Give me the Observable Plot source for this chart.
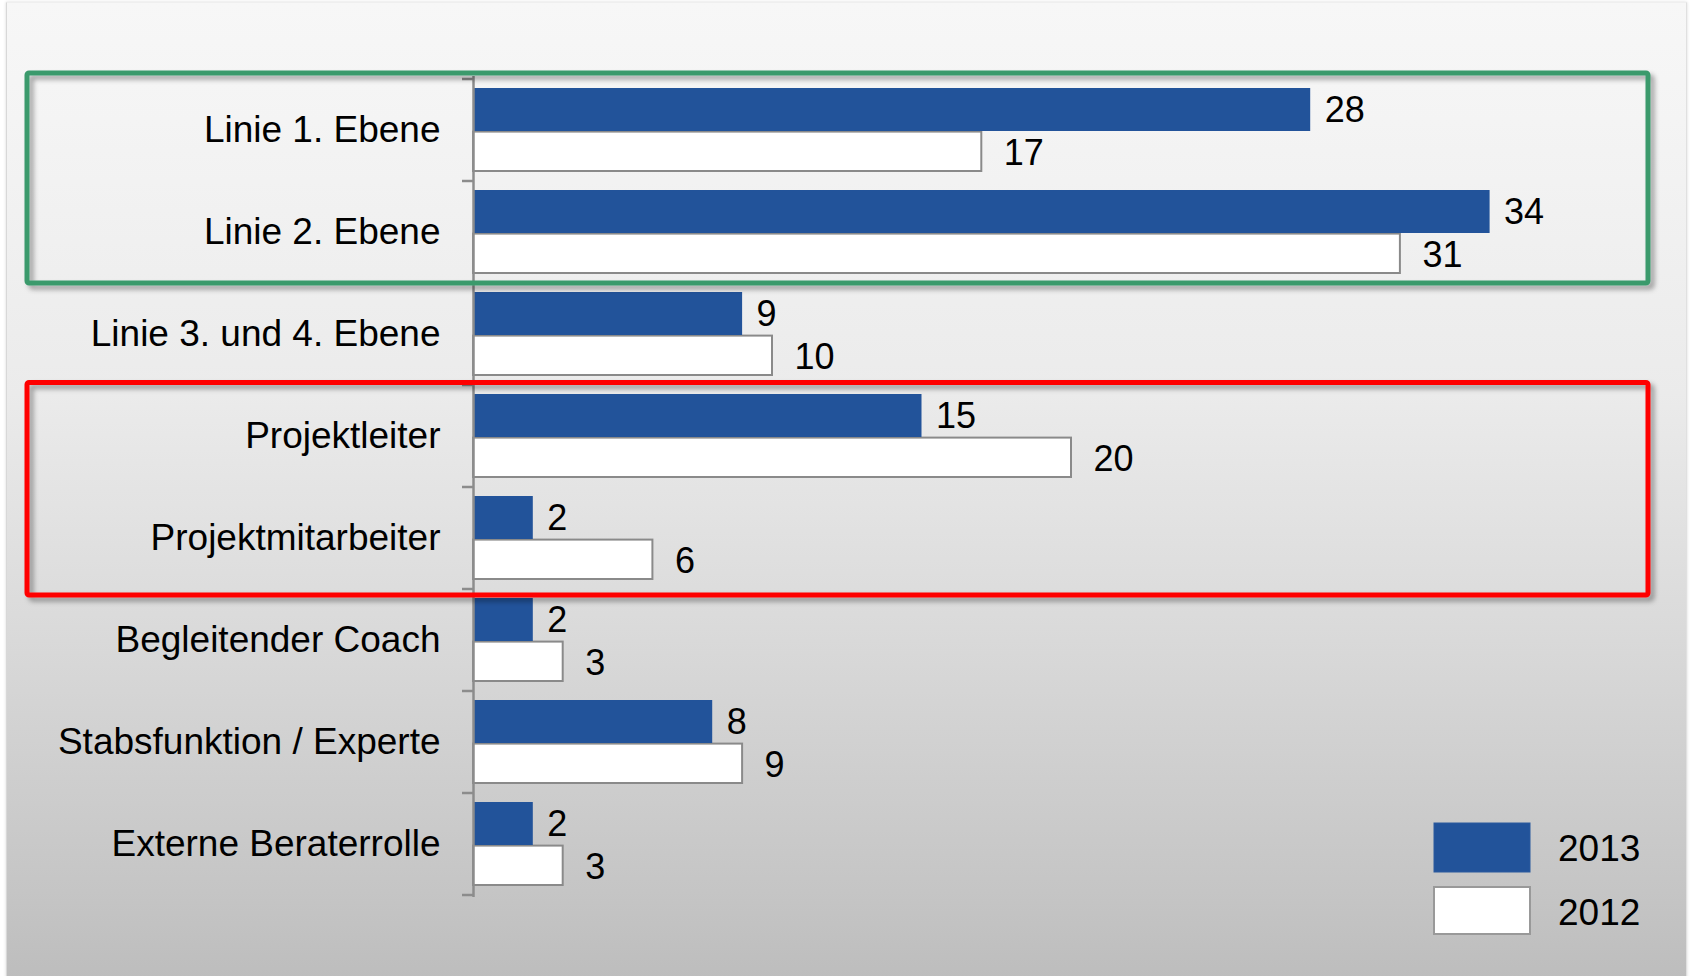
<!DOCTYPE html>
<html>
<head>
<meta charset="utf-8">
<script src="https://cdn.jsdelivr.net/npm/d3@7"></script>
<script src="https://cdn.jsdelivr.net/npm/@observablehq/plot@0.6"></script>
<style>
  html, body { margin: 0; padding: 0; background: #ffffff; overflow: hidden; }
  #wrap { position: relative; width: 1690px; height: 976px; }
  #card {
    position: absolute; left: 6px; top: 2px; width: 1679px; height: 976px;
    background: linear-gradient(to bottom, #f7f7f7 0%, #f4f4f4 12%, #ebebeb 40%, #dadada 64%, #c5c5c5 91%, #bdbdbd 100%);
    border-left: 1px solid #d8d8d8; border-right: 1px solid #e0e0e0; border-top: 1px solid #efefef;
    box-shadow: 0 0 3px rgba(0,0,0,0.15);
  }
  #chart { position: absolute; left: 0; top: 0; }
</style>
</head>
<body>
<div id="wrap"><div id="card"></div><div id="chart"></div></div>
<script>
const categories = ["Linie 1. Ebene", "Linie 2. Ebene", "Linie 3. und 4. Ebene", "Projektleiter", "Projektmitarbeiter", "Begleitender Coach", "Stabsfunktion / Experte", "Externe Beraterrolle"];
const values2013 = [28, 34, 9, 15, 2, 2, 8, 2];
const values2012 = [17, 31, 10, 20, 6, 3, 9, 3];
const years = ["2013", "2012"];
const colors = {"2013": "#22539a", "2012": "#ffffff"};

const rows = categories.map((c, i) => ({cat: c, v2013: values2013[i], v2012: values2012[i]}));

const font = "'Liberation Sans', Arial, Helvetica, sans-serif";

const plot = Plot.plot({
  width: 1690,
  height: 976,
  marginLeft: 473,
  marginRight: 21,
  marginTop: 76,
  marginBottom: 79,
  style: {background: "transparent", fontFamily: font, fontSize: "36px", color: "#000", overflow: "visible"},
  x: {domain: [0, 40], axis: null},
  y: {domain: categories, padding: 0, label: null},
  marks: [
    Plot.barX(rows, {x: "v2012", y: "cat", fill: colors["2012"], stroke: "#8a8a8a", strokeWidth: 2, insetTop: 52.6, insetBottom: 10}),
    Plot.barX(rows, {x: "v2013", y: "cat", fill: colors["2013"], insetTop: 9, insetBottom: 50}),
    Plot.ruleX([0], {stroke: "#8c8c8c", strokeWidth: 2.5}),
    Plot.axisY({tickSize: 0, tickPadding: 33, label: null, fontSize: 37}),
    Plot.text(rows, {x: "v2013", y: "cat", text: d => String(d.v2013), textAnchor: "start", dx: 14, dy: -20.5, fontSize: 36, fill: "#000"}),
    Plot.text(rows, {x: "v2012", y: "cat", text: d => String(d.v2012), textAnchor: "start", dx: 22, dy: 23, fontSize: 36, fill: "#000"})
  ]
});

document.getElementById("chart").appendChild(plot);

const svg = d3.select(plot);
const ys = plot.scale("y");
const xs = plot.scale("x");
const x0 = xs.apply(0);

// band boundary ticks
const tickYs = categories.map(c => ys.apply(c));
tickYs.push(ys.apply(categories[categories.length - 1]) + ys.bandwidth);
svg.append("g").selectAll("line").data(tickYs).join("line")
  .attr("x1", x0 - 11).attr("x2", x0)
  .attr("y1", d => d).attr("y2", d => d)
  .attr("stroke", "#8c8c8c").attr("stroke-width", 2.5);

// highlight boxes
const defs = svg.append("defs");
const f = defs.append("filter").attr("id", "shadow").attr("x", "-5%").attr("y", "-5%").attr("width", "110%").attr("height", "120%");
f.append("feDropShadow").attr("dx", 4).attr("dy", 4).attr("stdDeviation", 2.5).attr("flood-color", "#000").attr("flood-opacity", 0.35);

const boxes = [
  {from: categories[0], to: categories[2], top: -6, bottom: 0, color: "#3a9a6c"},
  {from: categories[3], to: categories[5], top: -2.5, bottom: 6, color: "#ff0000"}
];
svg.append("g").selectAll("rect").data(boxes).join("rect")
  .attr("x", 27).attr("width", 1621)
  .attr("y", d => ys.apply(d.from) + d.top)
  .attr("height", d => (ys.apply(d.to) + d.bottom) - (ys.apply(d.from) + d.top))
  .attr("rx", 2)
  .attr("fill", "none").attr("stroke", d => d.color).attr("stroke-width", 5)
  .attr("filter", "url(#shadow)");

// legend
const lg = svg.append("g").attr("font-family", font).attr("font-size", 37).attr("text-anchor", "start");
const legendY = [823, 887];
years.forEach((yr, i) => {
  lg.append("rect").attr("x", 1434).attr("y", legendY[i]).attr("width", 96).attr("height", i === 0 ? 49 : 47)
    .attr("fill", colors[yr]).attr("stroke", i === 0 ? "#2a5a9e" : "#999").attr("stroke-width", i === 0 ? 1 : 2);
  lg.append("text").attr("x", 1558).attr("y", legendY[i] + 38).attr("text-anchor", "start").attr("fill", "#000").text(yr);
});
</script>
</body>
</html>
